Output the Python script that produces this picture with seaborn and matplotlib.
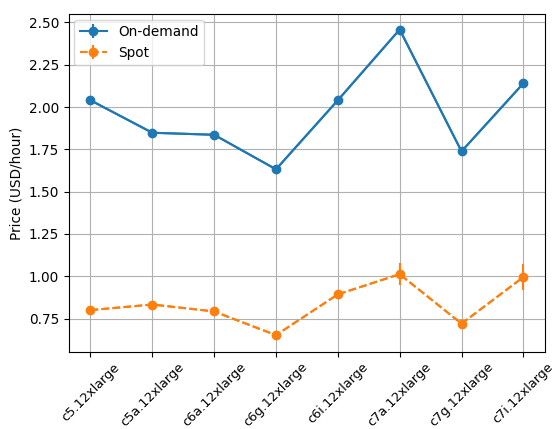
import matplotlib
matplotlib.use("Agg")
import matplotlib.pyplot as plt
import seaborn as sns
import pandas as pd

instances = ['c5.12xlarge', 'c5a.12xlarge', 'c6a.12xlarge', 'c6g.12xlarge',
             'c6i.12xlarge', 'c7a.12xlarge', 'c7g.12xlarge', 'c7i.12xlarge']
on_demand = [2.04, 1.848, 1.836, 1.632, 2.04, 2.458, 1.738, 2.14]
on_demand_err = [0, 0, 0, 0, 0, 0, 0, 0]
spot = [0.80, 0.833, 0.792, 0.652, 0.893, 1.012, 0.72, 0.995]
spot_err = [0.01, 0.012, 0.01, 0.01, 0.012, 0.065, 0.012, 0.075]

df = pd.DataFrame({'instance': instances * 2,
                   'price': on_demand + spot,
                   'type': ['On-demand'] * len(instances) + ['Spot'] * len(instances)})

plt.rcParams['font.size'] = 9.8
plt.rcParams['xtick.labelsize'] = 9.3

fig, ax = plt.subplots(figsize=(5.55, 4.29), dpi=100)

# lines and markers via seaborn
sns.lineplot(data=df, x='instance', y='price', hue='type', style='type',
             markers=['o', 'o'], dashes=[(None, None), (3.7, 1.6)],
             palette=['#1f77b4', '#ff7f0e'], markersize=6, markeredgewidth=0,
             legend=False, ax=ax)

# error bars on top, also provides legend handles
ax.errorbar(instances, on_demand, yerr=on_demand_err, fmt='o', ls='-',
            color='#1f77b4', label='On-demand')
ax.errorbar(instances, spot, yerr=spot_err, fmt='o', ls='--',
            color='#ff7f0e', label='Spot')

ax.set_xlabel('')
ax.set_ylabel('Price (USD/hour)')
ax.set_yticks([0.75, 1.00, 1.25, 1.50, 1.75, 2.00, 2.25, 2.50])
ax.set_yticklabels(['0.75', '1.00', '1.25', '1.50', '1.75', '2.00', '2.25', '2.50'])
plt.xticks(rotation=45)
ax.tick_params(axis='x', pad=2.5)
ax.grid(True)
ax.legend(loc='upper left', borderaxespad=0.4)

plt.subplots_adjust(left=0.124, right=0.982, top=0.967, bottom=0.179)
plt.savefig('out.png')
